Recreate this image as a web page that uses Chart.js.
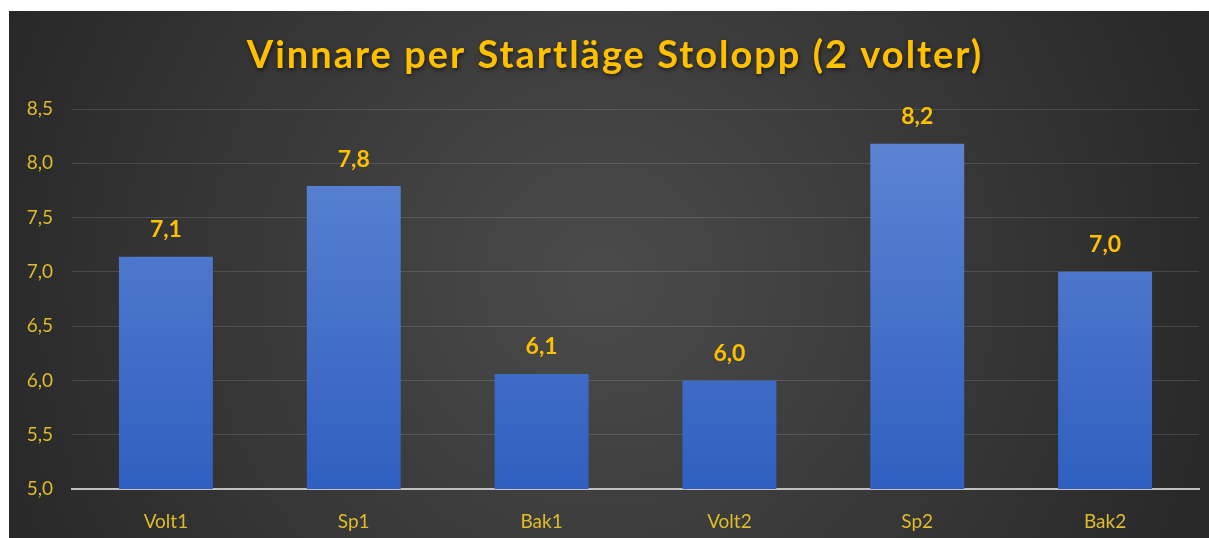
<!DOCTYPE html>
<html>
<head>
<meta charset="utf-8">
<script src="https://cdn.jsdelivr.net/npm/chart.js@4.4.0/dist/chart.umd.min.js"></script>
<style>
  html, body { margin: 0; padding: 0; background: #fff; }
  #wrap { width: 1209px; height: 538px; }
</style>
</head>
<body>
<div id="wrap"><canvas id="myChart"></canvas></div>
<script>
const titleText = "Vinnare per Startläge Stolopp (2 volter)";
const categories = ["Volt1", "Sp1", "Bak1", "Volt2", "Sp2", "Bak2"];
const winners = [7.14, 7.79, 6.06, 6.0, 8.18, 7.0];
const yTicks = [5.0, 5.5, 6.0, 6.5, 7.0, 7.5, 8.0, 8.5];

const fmt = (v) => v.toFixed(1).replace(".", ",");

// dark panel with a soft radial glow
const panelBg = {
  id: "panelBg",
  beforeDraw(chart) {
    const c = chart.ctx;
    c.save();
    c.fillStyle = "#ffffff";
    c.fillRect(0, 0, chart.width, chart.height);
    const g = c.createRadialGradient(600, 280, 20, 600, 280, 720);
    g.addColorStop(0, "#4a4a4a");
    g.addColorStop(1, "#242424");
    c.fillStyle = g;
    c.fillRect(9, 11, 1200, 527);
    c.restore();
  },
};

// title with spacing and shadow, plus value labels above bars
const textLayer = {
  id: "textLayer",
  afterDatasetsDraw(chart) {
    const c = chart.ctx;
    const meta = chart.getDatasetMeta(0);
    c.save();
    c.shadowColor = "rgba(0,0,0,0.55)";
    c.shadowBlur = 4;
    c.shadowOffsetX = 1;
    c.shadowOffsetY = 2;
    c.font = "bold 38px Lato";
    c.letterSpacing = "2px";
    c.fillStyle = "#FFC000";
    c.textAlign = "center";
    c.textBaseline = "alphabetic";
    c.fillText(titleText, 615, 68);
    c.restore();

    c.save();
    c.font = "bold 23px Lato";
    c.fillStyle = "#FFC000";
    c.textAlign = "center";
    c.textBaseline = "middle";
    meta.data.forEach((bar, i) => {
      c.fillText(fmt(winners[i]), bar.x, bar.y - 27);
    });
    c.restore();
  },
};

const ctx = document.getElementById("myChart");
new Chart(ctx, {
  type: "bar",
  data: {
    labels: categories,
    datasets: [
      {
        label: "Vinnare",
        data: winners,
        backgroundColor: (context) => {
          const area = context.chart.chartArea;
          if (!area) return "#4472C4";
          const g = context.chart.ctx.createLinearGradient(0, area.top, 0, area.bottom);
          g.addColorStop(0, "#6187d4");
          g.addColorStop(1, "#2f5fc0");
          return g;
        },
        barPercentage: 0.5,
        categoryPercentage: 1.0,
      },
    ],
  },
  options: {
    responsive: true,
    maintainAspectRatio: false,
    animation: false,
    layout: { padding: { left: 9, right: 10, top: 109, bottom: 0 } },
    plugins: {
      legend: { display: false },
      tooltip: { enabled: false },
      title: { display: false },
    },
    scales: {
      x: {
        grid: { display: false },
        border: { color: "#c0c0c0", width: 2 },
        ticks: {
          color: "#E0BC2A",
          font: { family: "Lato", size: 19 },
          padding: 13,
        },
        afterFit(scale) {
          scale.height = 49;
        },
      },
      y: {
        min: 5,
        max: 8.5,
        grid: { color: "rgba(255,255,255,0.13)", lineWidth: 1, drawTicks: false },
        border: { display: false },
        ticks: {
          stepSize: 0.5,
          color: "#E0BC2A",
          font: { family: "Lato", size: 19 },
          padding: 19,
          callback: (v) => fmt(v),
        },
        afterBuildTicks(scale) {
          scale.ticks = yTicks.map((v) => ({ value: v }));
        },
        afterFit(scale) {
          scale.width = 63;
        },
      },
    },
  },
  plugins: [panelBg, textLayer],
});
</script>
</body>
</html>
